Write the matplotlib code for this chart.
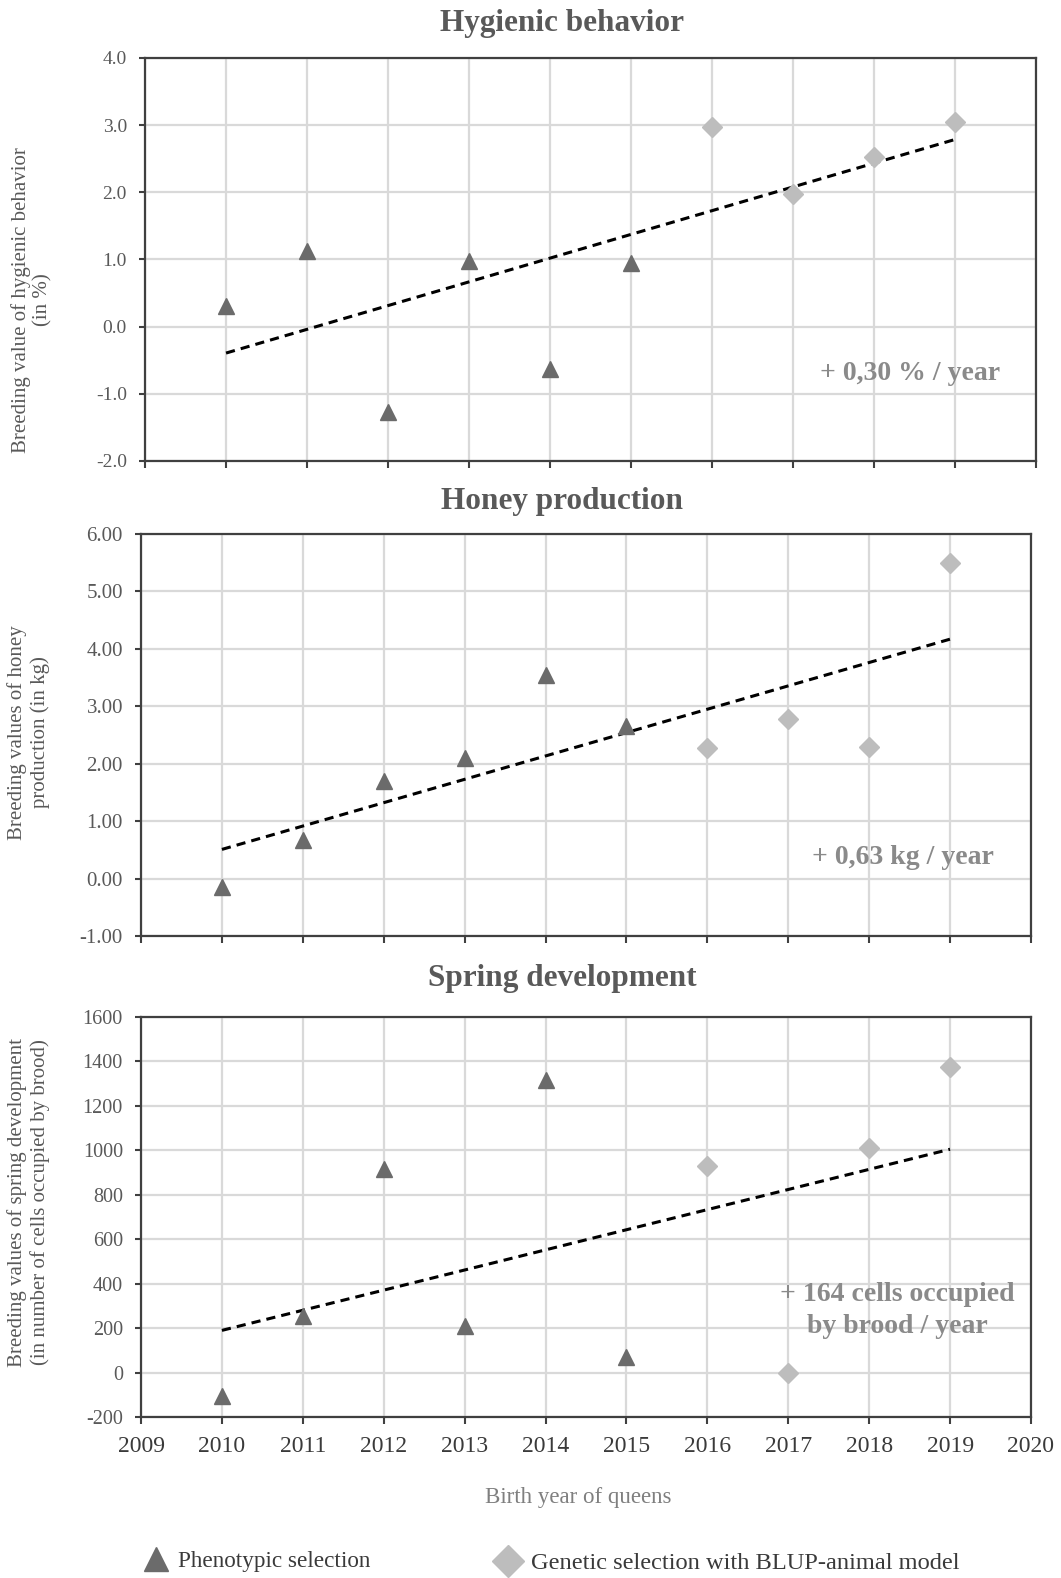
import numpy as np
import matplotlib
matplotlib.use("Agg")
import matplotlib.pyplot as plt
from matplotlib.lines import Line2D
from matplotlib.ticker import FormatStrFormatter, MultipleLocator

plt.rcParams['font.family'] = ['Liberation Serif', 'DejaVu Serif']

# ---------------- data ----------------
years_pheno = [2010, 2011, 2012, 2013, 2014, 2015]
years_gen = [2016, 2017, 2018, 2019]

hyg_pheno = [0.30, 1.12, -1.27, 0.98, -0.63, 0.95]
hyg_gen = [2.97, 1.97, 2.52, 3.05]

honey_pheno = [-0.14, 0.68, 1.70, 2.10, 3.55, 2.65]
honey_gen = [2.27, 2.78, 2.30, 5.50]

spring_pheno = [-105, 255, 915, 210, 1315, 70]
spring_gen = [930, 0, 1010, 1375]

titles = ["Hygienic behavior", "Honey production", "Spring development"]
ylabels = ["Breeding value of hygienic behavior\n(in %)",
           "Breeding values of honey\nproduction (in kg)",
           "Breeding values of spring development\n(in number of cells occupied by brood)"]
annotations = ["+ 0,30 % / year", "+ 0,63 kg / year", "+ 164 cells occupied\nby brood / year"]
xticks = list(range(2009, 2021))
legend_labels = ["Phenotypic selection", "Genetic selection with BLUP-animal model"]

# ---------------- style ----------------
C_TRI = '#6b6b6b'
C_DIA = '#bdbdbd'
C_TXT = '#595959'
C_ANN = '#8a8a8a'
C_SPINE = '#404040'
C_GRID = '#d9d9d9'

fig = plt.figure(figsize=(10.61, 15.78), dpi=100)

panels = [
    dict(pheno=hyg_pheno, gen=hyg_gen, ylim=(-2, 4), step=1.0, fmt='%.1f', ysize=14,
         rect=[0.1367, 0.7079, 0.8398, 0.2554], title_y=0.985, ylab=(0.030, 0.810),
         ann=(2018.44, -0.70)),
    dict(pheno=honey_pheno, gen=honey_gen, ylim=(-1, 6), step=1.0, fmt='%.2f', ysize=15,
         rect=[0.1329, 0.4068, 0.8388, 0.2548], title_y=0.682, ylab=(0.027, 0.536),
         ann=(2018.42, 0.37)),
    dict(pheno=spring_pheno, gen=spring_gen, ylim=(-200, 1600), step=200, fmt='%d', ysize=14.5,
         rect=[0.1329, 0.1020, 0.8388, 0.2535], title_y=0.380, ylab=(0.027, 0.238),
         ann=(2018.35, 280)),
]

for i, p in enumerate(panels):
    ax = fig.add_axes(p['rect'])
    ax.set_xlim(2009, 2020)
    ax.set_ylim(*p['ylim'])
    ax.set_xticks(xticks)
    ax.yaxis.set_major_locator(MultipleLocator(p['step']))
    ax.yaxis.set_major_formatter(FormatStrFormatter(p['fmt']))
    ax.grid(True, color=C_GRID, lw=1.6, zorder=0)
    ax.set_axisbelow(True)
    for s in ax.spines.values():
        s.set_color(C_SPINE)
        s.set_linewidth(1.6)
    ax.tick_params(axis='both', direction='out', color=C_SPINE, width=1.5,
                   labelcolor=C_TXT)
    ax.tick_params(axis='x', length=5, labelcolor='#3a3a3a', labelsize=17, pad=9)
    ax.tick_params(axis='y', length=4.5, pad=8.5, labelsize=p['ysize'])
    if i < 2:
        ax.tick_params(axis='x', labelbottom=False)

    # trend line (least-squares fit over all years)
    xs = np.array(years_pheno + years_gen, dtype=float)
    ys = np.array(p['pheno'] + p['gen'], dtype=float)
    k, b = np.polyfit(xs, ys, 1)
    xl = np.array([xs.min(), xs.max()])
    ax.plot(xl, k * xl + b, color='black', lw=2.2, linestyle=(0, (3, 2)), zorder=3)

    ax.plot(years_pheno, p['pheno'], ls='none', marker='^', ms=12,
            color=C_TRI, mec=C_TRI, zorder=4)
    ax.plot(years_gen, p['gen'], ls='none', marker='D', ms=10,
            color=C_DIA, mec=C_DIA, zorder=4)

    ax.text(p['ann'][0], p['ann'][1], annotations[i], ha='center', va='center',
            fontsize=20, fontweight='bold', color=C_ANN, linespacing=1.4, zorder=5)

    fig.text(0.53, p['title_y'], titles[i], ha='center', va='center',
             fontsize=22.5, fontweight='bold', color=C_TXT)
    fig.text(p['ylab'][0], p['ylab'][1], ylabels[i], ha='center', va='center',
             rotation=90, fontsize=15, color=C_TXT, linespacing=1.2)

fig.text(0.545, 0.0507, "Birth year of queens", ha='center', va='center',
         fontsize=16.5, color='#7f7f7f')

h1 = Line2D([], [], ls='none', marker='^', ms=17, color=C_TRI)
h2 = Line2D([], [], ls='none', marker='D', ms=16, color=C_DIA)
fig.legend([h1], [legend_labels[0]], loc='center left', bbox_to_anchor=(0.1365, 0.0105),
           frameon=False, fontsize=16.7, handlelength=1.0, handletextpad=0.45,
           borderpad=0, borderaxespad=0, labelcolor='#3a3a3a')
fig.legend([h2], [legend_labels[1]], loc='center left', bbox_to_anchor=(0.467, 0.0095),
           frameon=False, fontsize=17.6, handlelength=1.0, handletextpad=0.45,
           borderpad=0, borderaxespad=0, labelcolor='#3a3a3a')

fig.savefig("out.png", dpi=100)
